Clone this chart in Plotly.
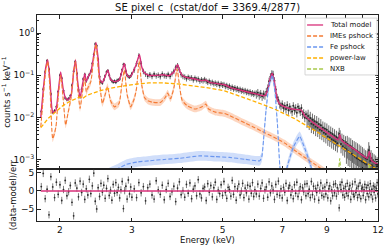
import numpy as np
import plotly.graph_objects as go
from plotly.subplots import make_subplots

# ---------------- model components (energy keV, counts/s/keV) ----------------
model_e = [1.795, 1.82, 1.845, 1.866, 1.89, 1.91, 1.925, 1.955, 1.98, 2.008,
           2.035, 2.06, 2.09, 2.13, 2.16, 2.183, 2.21, 2.24, 2.27, 2.30,
           2.32, 2.34, 2.38, 2.42, 2.45, 2.48, 2.505, 2.54, 2.575, 2.62,
           2.66, 2.72, 2.79, 2.84, 2.875, 2.91, 2.94, 2.98, 3.03, 3.07,
           3.13, 3.17, 3.21, 3.30, 3.45, 3.58, 3.69, 3.80, 3.88, 3.94,
           3.99, 4.10, 4.28, 4.45, 4.55, 4.65, 5.06, 5.21, 5.67, 6.00,
           6.34, 6.45, 6.55, 6.62, 6.70, 6.80, 6.90, 7.10, 7.40, 7.65,
           7.80, 7.95, 8.40, 9.00, 9.60, 9.68, 9.78, 10.50, 11.30, 11.44,
           11.58, 12.0]
model_y = [0.010, 0.045, 0.15, 0.23, 0.08, 0.017, 0.013, 0.015, 0.04, 0.12,
           0.05, 0.03, 0.026, 0.034, 0.12, 0.23, 0.07, 0.030, 0.06, 0.11,
           0.071, 0.09, 0.12, 0.30, 0.59, 0.25, 0.08, 0.067, 0.09, 0.133,
           0.08, 0.071, 0.077, 0.13, 0.19, 0.11, 0.093, 0.095, 0.13, 0.175,
           0.31, 0.16, 0.118, 0.10, 0.10, 0.103, 0.098, 0.12, 0.178, 0.12,
           0.098, 0.088, 0.082, 0.075, 0.077, 0.068, 0.060, 0.052, 0.042, 0.037,
           0.033, 0.045, 0.09, 0.111, 0.07, 0.028, 0.021, 0.018, 0.016, 0.0155,
           0.015, 0.011, 0.0072, 0.0045, 0.0030, 0.0040, 0.0029, 0.0018, 0.0011, 0.0016,
           0.00098, 0.00078]

imes_e = [1.795, 1.82, 1.845, 1.866, 1.89, 1.92, 1.955, 1.98, 2.008, 2.035,
          2.065, 2.09, 2.13, 2.16, 2.183, 2.21, 2.24, 2.27, 2.30, 2.32,
          2.34, 2.38, 2.42, 2.45, 2.48, 2.54, 2.58, 2.615, 2.66, 2.72,
          2.79, 2.84, 2.875, 2.92, 2.98, 3.04, 3.08, 3.125, 3.17, 3.22,
          3.28, 3.38, 3.53, 3.62, 3.67, 3.73, 3.80, 3.87, 3.93, 3.98,
          4.10, 4.28, 4.45, 4.55, 4.62, 4.80, 5.06, 5.21, 5.67, 6.00,
          6.34, 6.70, 7.10, 7.50, 8.00, 8.40, 9.00]
imes_y = [0.006, 0.03, 0.13, 0.21, 0.05, 0.0032, 0.006, 0.03, 0.10, 0.03,
          0.0067, 0.012, 0.03, 0.12, 0.21, 0.05, 0.0166, 0.04, 0.085, 0.041,
          0.05, 0.071, 0.25, 0.55, 0.15, 0.0217, 0.035, 0.054, 0.025, 0.018,
          0.0217, 0.07, 0.133, 0.035, 0.018, 0.028, 0.05, 0.22, 0.06, 0.03,
          0.025, 0.023, 0.023, 0.03, 0.038, 0.028, 0.05, 0.141, 0.05, 0.026,
          0.019, 0.016, 0.018, 0.021, 0.016, 0.0135, 0.0125, 0.0112, 0.0075, 0.0058,
          0.0044, 0.0034, 0.0025, 0.0017, 0.0011, 0.0008, 0.0005]
imes_band = 1.2

fe_e = [2.50, 2.75, 2.90, 3.10, 3.32, 3.60, 3.93, 4.40, 4.80, 5.20,
        5.67, 6.17, 6.24, 6.30, 6.39, 6.50, 6.62, 6.72, 6.82, 6.92,
        7.05, 7.20, 7.45, 7.72, 7.90, 8.00, 8.20, 8.35, 8.60]
fe_y = [0.0004, 0.0006, 0.00078, 0.0009, 0.00096, 0.00103, 0.0011, 0.00125, 0.0012, 0.00115,
        0.00104, 0.00096, 0.0012, 0.003, 0.015, 0.06, 0.10, 0.04, 0.006, 0.0006,
        0.0003, 0.0007, 0.002, 0.0036, 0.0022, 0.0016, 0.0008, 0.0004, 0.0002]
fe_band = 1.3

pl_e = [1.795, 1.87, 1.955, 2.03, 2.11, 2.18, 2.24, 2.28, 2.32, 2.40,
        2.54, 2.79, 3.07, 3.30, 3.60, 3.93, 4.40, 4.65, 5.06, 5.21,
        5.50, 6.00, 6.70, 7.50, 8.40, 9.40, 10.50, 11.70, 12.0]
pl_y = [0.0058, 0.0095, 0.0139, 0.019, 0.024, 0.028, 0.031, 0.029, 0.033, 0.0375,
        0.045, 0.054, 0.062, 0.066, 0.066, 0.062, 0.055, 0.050, 0.043, 0.039,
        0.032, 0.024, 0.016, 0.0095, 0.0050, 0.0025, 0.0013, 0.00068, 0.00058]

nxb_e = [1.795, 5.0, 9.0, 9.55, 9.68, 9.80, 11.30, 11.44, 11.58, 12.0]
nxb_y = [0.0002, 0.00025, 0.0003, 0.0003, 0.0011, 0.0003, 0.0003, 0.0008, 0.0003, 0.0003]

# ---------------- observed spectrum (channel grids + values) ----------------
data_a_e = np.round(np.arange(1.80, 3.001, 0.02), 3)
data_a_y = [0.014, 0.047, 0.12, 0.22, 0.14, 0.036, 0.0135, 0.0145, 0.018, 0.041,
            0.10, 0.085, 0.043, 0.029, 0.027, 0.028, 0.033, 0.058, 0.125, 0.21,
            0.11, 0.045, 0.031, 0.047, 0.082, 0.105, 0.074, 0.088, 0.105, 0.125,
            0.19, 0.31, 0.55, 0.50, 0.24, 0.092, 0.07, 0.066, 0.078, 0.097,
            0.12, 0.128, 0.10, 0.082, 0.074, 0.07, 0.073, 0.069, 0.076, 0.078,
            0.082, 0.104, 0.135, 0.18, 0.175, 0.125, 0.10, 0.094, 0.091, 0.096,
            0.11]
data_b_e = np.round(np.arange(3.04, 6.001, 0.04), 3)
data_b_y = [0.135, 0.19, 0.29, 0.19, 0.125, 0.108, 0.097, 0.104, 0.095, 0.107,
            0.098, 0.102, 0.094, 0.108, 0.099, 0.097, 0.106, 0.095, 0.11, 0.125,
            0.155, 0.17, 0.135, 0.104, 0.095, 0.092, 0.084, 0.091, 0.086, 0.088,
            0.079, 0.086, 0.08, 0.082, 0.074, 0.079, 0.075, 0.08, 0.074, 0.069,
            0.073, 0.067, 0.069, 0.064, 0.066, 0.062, 0.065, 0.058, 0.063, 0.059,
            0.061, 0.055, 0.058, 0.053, 0.056, 0.05, 0.053, 0.048, 0.051, 0.047,
            0.049, 0.045, 0.047, 0.043, 0.045, 0.042, 0.044, 0.04, 0.042, 0.039,
            0.041, 0.037, 0.039, 0.036, 0.038]
data_c_e = np.round(np.arange(6.05, 12.001, 0.05), 3)
data_c_y = [0.036, 0.039, 0.034, 0.037, 0.032, 0.036, 0.034, 0.041, 0.05, 0.072,
            0.092, 0.108, 0.105, 0.074, 0.046, 0.030, 0.026, 0.021, 0.019, 0.021,
            0.017, 0.019, 0.016, 0.02, 0.015, 0.018, 0.016, 0.014, 0.019, 0.015,
            0.017, 0.013, 0.018, 0.016, 0.014, 0.017, 0.012, 0.013, 0.010, 0.012,
            0.0095, 0.011, 0.0085, 0.0098, 0.0072, 0.0089, 0.0068, 0.0082, 0.0061, 0.0078,
            0.0058, 0.0071, 0.0052, 0.0066, 0.0049, 0.0058, 0.0044, 0.0055, 0.0041, 0.0052,
            0.0036, 0.0047, 0.0034, 0.0044, 0.0031, 0.0041, 0.0029, 0.0038, 0.0027, 0.0035,
            0.0025, 0.0033, 0.0041, 0.0036, 0.0024, 0.003, 0.0021, 0.0028, 0.0019, 0.0026,
            0.0018, 0.0024, 0.0016, 0.0022, 0.0015, 0.0021, 0.0014, 0.0019, 0.0013, 0.0018,
            0.0012, 0.0017, 0.0011, 0.0016, 0.00105, 0.0015, 0.00098, 0.0014, 0.00092, 0.0013,
            0.00088, 0.0012, 0.00083, 0.0011, 0.00078, 0.00105, 0.0012, 0.0017, 0.0014, 0.00095,
            0.0011, 0.00075, 0.00095, 0.00068, 0.00088, 0.00062, 0.00082, 0.00058, 0.00076, 0.00055]
# relative 1-sigma errors (percent) per channel group
err_pct = {"a": 10, "b": 15, "c1": 22, "c2": 40, "c3": 55}

resid_a = [1.2, 4.8, -2.1, 0.5, -6.5, 3.9, 1.1, -1.8, 2.4, -0.9,
           1.7, -2.6, 0.4, 2.9, -1.3, -0.2, 1.5, -3.1, -6.8, 2.2,
           0.8, -1.6, 2.7, -0.4, 1.9, -2.3, 0.6, -1.1, 3.2, -0.7,
           1.4, 4.9, -2.8, -4.9, 0.9, -1.5, 2.1, -0.3, 1.6, -2.0,
           0.7, 3.4, -1.2, 0.2, -2.5, 1.8, -0.6, 2.3, -0.4, 1.0,
           -1.9, 0.3, 2.6, -4.8, 0.1, 1.3, -2.2, 3.0, -0.8, 1.1,
           -1.7]
resid_b = [0.6, -1.8, 2.3, -0.5, 1.2, -2.7, 0.9, 1.9, -1.1, -2.2,
           2.8, 0.3, -0.9, 1.6, -2.4, 0.4, 2.1, -1.5, -0.2, 1.3,
           -2.9, 0.8, 2.5, -1.0, 0.1, -1.7, 1.8, -0.6, 2.2, -2.1,
           0.5, 1.4, -1.3, 3.1, -0.8, -1.9, 0.7, 1.1, -2.6, 2.0,
           -0.3, 1.5, -1.6, 0.9, 2.4, -2.3, 0.2, -0.7, 1.7, -1.2,
           2.6, -0.4, -2.0, 1.0, 0.4, -1.4, 2.9, -0.9, 1.2, -2.5,
           0.6, 1.9, -1.1, 0.0, 2.1, -1.8, 0.8, -0.5, 1.6, -2.2,
           1.3, -0.6, 2.3, -1.5, 0.3]
resid_c = [-0.8, 1.9, -1.4, 0.7, 2.2, -2.0, 0.3, 1.1, -1.7, 2.5,
           -0.5, 1.4, 0.2, -2.3, 1.8, -0.9, 2.7, -1.2, 0.6, -1.9,
           1.0, -0.3, 2.1, -2.6, 0.8, 1.5, -1.1, 0.4, -2.1, 1.7,
           -0.6, 2.4, -1.5, 0.1, 1.2, -2.4, 0.9, -0.2, 1.9, -1.3,
           2.0, -0.7, 0.5, -1.8, 2.6, -1.0, 1.3, -2.2, 0.7, -0.4,
           1.6, -2.5, 0.2, 2.2, -1.2, 0.8, -1.6, 1.1, -0.8, 2.3,
           -1.9, 0.6, 1.4, -2.7, 0.3, -1.3, 1.8, -0.5, 2.0, -1.4,
           0.9, -0.1, -4.6, 1.7, 0.4, 2.4, -1.1, 0.7, -1.7, 1.2,
           -0.6, 2.1, -1.3, 0.5, 1.5, -2.3, 0.0, 1.9, -0.9, -1.5,
           2.5, -0.4, 0.8, -1.8, 1.3, -1.0, 2.2, -2.1, 0.6, 1.0,
           -1.2, 0.3, 1.8, -2.4, 0.9, -0.7, 1.6, -1.6, 0.2, 2.0,
           -1.0, 0.5, -2.2, 1.4, -0.3, 1.1, -1.9, 0.7, 2.3, -0.8]

assert len(data_a_e) == len(data_a_y) == len(resid_a)
assert len(data_b_e) == len(data_b_y) == len(resid_b)
assert len(data_c_e) == len(data_c_y) == len(resid_c)

legend_names = ["Total model", "IMEs pshock", "Fe pshock", "power-law", "NXB"]
x_major = [2, 3, 5, 7, 9, 12]
x_major_text = ["2", "3", "5", "7", "9", "12"]
x_minor = [4, 6, 8, 10, 11]

# ---------------- styling ----------------
PINK = "#d8307a"
ORANGE = "#f47b35"
BLUE = "#6a96ef"
GOLD = "#ffb000"
GREEN = "#a8c94a"
FONT = "DejaVu Sans"
DASH = "4px,2px"

fig = make_subplots(rows=2, cols=1, shared_xaxes=True, vertical_spacing=0)

def band(xe, ye, fac, color):
    up = [v * fac for v in ye]
    lo = [v / fac for v in ye]
    fig.add_trace(go.Scatter(x=xe, y=up, mode="lines", line=dict(width=0, shape="spline", smoothing=0.5),
                             showlegend=False, hoverinfo="skip"), row=1, col=1)
    fig.add_trace(go.Scatter(x=xe, y=lo, mode="lines", line=dict(width=0, shape="spline", smoothing=0.5),
                             fill="tonexty", fillcolor=color, showlegend=False, hoverinfo="skip"),
                  row=1, col=1)

band(imes_e, imes_y, imes_band, "rgba(250,165,115,0.45)")
band(fe_e, fe_y, fe_band, "rgba(120,160,240,0.35)")

def data_trace(xe, ye, pct):
    fig.add_trace(go.Scatter(x=xe, y=ye, mode="markers",
                             marker=dict(size=2, color="#2a2a2a"),
                             error_y=dict(type="percent", value=pct, color="rgba(60,60,60,0.75)",
                                          thickness=1.0, width=0),
                             showlegend=False, hoverinfo="skip"), row=1, col=1)

data_trace(data_a_e, data_a_y, err_pct["a"])
data_trace(data_b_e, data_b_y, err_pct["b"])
data_trace(data_c_e[:40], data_c_y[:40], err_pct["c1"])
data_trace(data_c_e[40:80], data_c_y[40:80], err_pct["c2"])
data_trace(data_c_e[80:], data_c_y[80:], err_pct["c3"])

fig.add_trace(go.Scatter(x=model_e, y=model_y, mode="lines",
                         line=dict(color=PINK, width=1.4, shape="spline", smoothing=0.5)), row=1, col=1)
fig.add_trace(go.Scatter(x=imes_e, y=imes_y, mode="lines",
                         line=dict(color=ORANGE, width=1.1, dash=DASH, shape="spline", smoothing=0.5)), row=1, col=1)
fig.add_trace(go.Scatter(x=fe_e, y=fe_y, mode="lines",
                         line=dict(color=BLUE, width=1.1, dash=DASH, shape="spline", smoothing=0.5)), row=1, col=1)
fig.add_trace(go.Scatter(x=pl_e, y=pl_y, mode="lines",
                         line=dict(color=GOLD, width=1.3, dash=DASH)), row=1, col=1)
fig.add_trace(go.Scatter(x=nxb_e, y=nxb_y, mode="lines",
                         line=dict(color=GREEN, width=1.1, dash=DASH)), row=1, col=1)

# residuals
all_e = list(data_a_e) + list(data_b_e) + list(data_c_e)
all_r = resid_a + resid_b + resid_c
fig.add_trace(go.Scatter(x=all_e, y=all_r, mode="markers",
                         marker=dict(size=1.8, color="#2a2a2a"),
                         error_y=dict(type="constant", value=1.0, color="rgba(70,70,70,0.7)",
                                      thickness=1.0, width=0),
                         hoverinfo="skip"), row=2, col=1)
fig.add_trace(go.Scatter(x=[model_e[0], model_e[-1]], y=[0, 0], mode="lines",
                         line=dict(color=PINK, width=1.4), hoverinfo="skip"),
              row=2, col=1)

# axes
xr = [0.2448, 1.0795]
axcommon = dict(showline=True, linecolor="#222", linewidth=1, mirror="ticks", ticks="inside",
                tickcolor="#222", ticklen=3.5, showgrid=False, zeroline=False, automargin=False,
                tickfont=dict(family=FONT, size=9, color="#111"))
fig.update_xaxes(type="log", range=xr, tickvals=x_major, ticktext=x_major_text,
                 minor=dict(tickmode="array", tickvals=x_minor, ticks="inside", ticklen=2.5,
                            tickcolor="#222", showgrid=False),
                 **axcommon)
fig.update_xaxes(showticklabels=False, row=1, col=1)
fig.update_xaxes(title=dict(text="Energy (keV)", font=dict(family=FONT, size=8.5, color="#111"),
                            standoff=1), row=2, col=1)

ymaj = [1e-3, 1e-2, 1e-1, 1.0]
ymajt = ["10<sup>\u22123</sup>", "10<sup>\u22122</sup>", "10<sup>\u22121</sup>", "10<sup>0</sup>"]
yminor = [k * 10.0 ** n for n in range(-4, 1) for k in range(2, 10)]
fig.update_yaxes(type="log", range=[-3.22, 0.4255], tickvals=ymaj, ticktext=ymajt,
                 minor=dict(tickmode="array", tickvals=yminor, ticks="inside", ticklen=2,
                            tickcolor="#222", showgrid=False),
                 title=dict(text="counts s<sup>\u22121</sup> keV<sup>\u22121</sup>",
                            font=dict(family=FONT, size=8.5, color="#111"), standoff=2),
                 domain=[0.251, 1.0], row=1, col=1, **axcommon)
fig.update_yaxes(range=[-8.2, 5.93], tickvals=[-5, 0, 5], ticktext=["\u22125", "0", "5"],
                 title=dict(text="(data-model)/err", font=dict(family=FONT, size=8.5, color="#111"),
                            standoff=2),
                 domain=[0.0, 0.251], row=2, col=1, **axcommon)

# legend box (drawn in paper coordinates)
leg_colors = [PINK, ORANGE, BLUE, GOLD, GREEN]
leg_dash = ["solid", DASH, DASH, DASH, DASH]
leg_rows = [0.9515, 0.898, 0.8447, 0.7913, 0.7379]
shapes = [dict(type="rect", xref="paper", yref="paper", x0=0.786, x1=0.997, y0=0.709, y1=0.985,
               line=dict(color="#cccccc", width=0.8), fillcolor="rgba(255,255,255,0.85)", layer="above")]
annotations = []
for name, col, ds, yy in zip(legend_names, leg_colors, leg_dash, leg_rows):
    shapes.append(dict(type="line", xref="paper", yref="paper", x0=0.792, x1=0.839, y0=yy, y1=yy,
                       line=dict(color=col, width=1.3, dash=ds), layer="above"))
    annotations.append(dict(text=name, xref="paper", yref="paper", x=0.852, y=yy, xanchor="left",
                            yanchor="middle", showarrow=False,
                            font=dict(family=FONT, size=7, color="#111")))

fig.update_layout(
    width=388, height=246,
    margin=dict(l=37, r=10, t=15, b=25, autoexpand=False),
    paper_bgcolor="white", plot_bgcolor="white",
    title=dict(text="SE pixel c \u00a0(cstat/dof = 3369.4/2877)", x=0.535, xanchor="center",
               y=0.968, yanchor="middle", font=dict(family=FONT, size=10, color="#111")),
    showlegend=False,
    shapes=shapes,
    annotations=annotations,
)

fig.write_html("out.html", config={"displayModeBar": False},
               post_script="document.body.style.margin='0';document.body.style.overflow='hidden';")
